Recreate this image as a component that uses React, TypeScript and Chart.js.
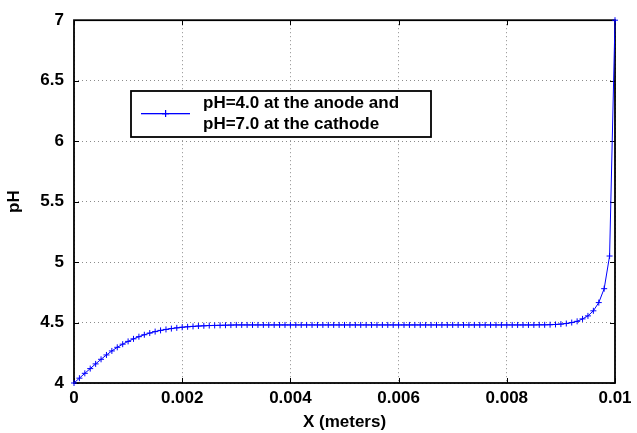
import React, { useEffect, useRef } from "react";
import { Chart, registerables } from "chart.js";

Chart.register(...registerables);

const X_METERS = [
  0, 0.0001, 0.0002, 0.0003, 0.0004, 0.0005, 0.0006, 0.0007, 0.0008, 0.0009,
  0.001, 0.0011, 0.0012, 0.0013, 0.0014, 0.0015, 0.0016, 0.0017, 0.0018, 0.0019,
  0.002, 0.0021, 0.0022, 0.0023, 0.0024, 0.0025, 0.0026, 0.0027, 0.0028, 0.0029,
  0.003, 0.0031, 0.0032, 0.0033, 0.0034, 0.0035, 0.0036, 0.0037, 0.0038, 0.0039,
  0.004, 0.0041, 0.0042, 0.0043, 0.0044, 0.0045, 0.0046, 0.0047, 0.0048, 0.0049,
  0.005, 0.0051, 0.0052, 0.0053, 0.0054, 0.0055, 0.0056, 0.0057, 0.0058, 0.0059,
  0.006, 0.0061, 0.0062, 0.0063, 0.0064, 0.0065, 0.0066, 0.0067, 0.0068, 0.0069,
  0.007, 0.0071, 0.0072, 0.0073, 0.0074, 0.0075, 0.0076, 0.0077, 0.0078, 0.0079,
  0.008, 0.0081, 0.0082, 0.0083, 0.0084, 0.0085, 0.0086, 0.0087, 0.0088, 0.0089,
  0.009, 0.0091, 0.0092, 0.0093, 0.0094, 0.0095, 0.0096, 0.0097, 0.0098, 0.0099,
  0.01,
];

const PH_VALUES = [
  4.0, 4.04, 4.08, 4.119, 4.158, 4.196, 4.232, 4.265, 4.295, 4.321,
  4.344, 4.365, 4.383, 4.399, 4.413, 4.425, 4.435, 4.443, 4.45, 4.456,
  4.461, 4.465, 4.468, 4.471, 4.473, 4.475, 4.476, 4.477, 4.478, 4.479,
  4.48, 4.48, 4.48, 4.48, 4.48, 4.48, 4.48, 4.48, 4.48, 4.48,
  4.48, 4.48, 4.48, 4.48, 4.48, 4.48, 4.48, 4.48, 4.48, 4.48,
  4.48, 4.48, 4.48, 4.48, 4.48, 4.48, 4.48, 4.48, 4.48, 4.48,
  4.48, 4.48, 4.48, 4.48, 4.48, 4.48, 4.48, 4.48, 4.48, 4.48,
  4.48, 4.48, 4.48, 4.48, 4.48, 4.48, 4.48, 4.48, 4.48, 4.48,
  4.48, 4.48, 4.48, 4.48, 4.48, 4.48, 4.481, 4.481, 4.482, 4.484,
  4.487, 4.492, 4.5, 4.51, 4.53, 4.555, 4.597, 4.665, 4.78, 5.05,
  7.0,
];

const X_TICK_VALUES = [0, 0.002, 0.004, 0.006, 0.008, 0.01];
const X_TICK_LABELS = ["0", "0.002", "0.004", "0.006", "0.008", "0.01"];
const Y_TICK_VALUES = [4, 4.5, 5, 5.5, 6, 6.5, 7];
const Y_TICK_LABELS = ["4", "4.5", "5", "5.5", "6", "6.5", "7"];

const SERIES_LABEL = ["pH=4.0 at the anode and", "pH=7.0 at the cathode"];
const X_TITLE = "X (meters)";
const Y_TITLE = "pH";

const FONT_FAMILY = "'Liberation Sans', Arial, Helvetica, sans-serif";
const BLUE = "#0000ff";

const frameAndTicks = {
  id: "frameAndTicks",
  beforeDatasetsDraw(chart: any) {
    const { ctx, chartArea } = chart;
    const { left, right, top, bottom } = chartArea;
    const xs = chart.scales.x;
    const ys = chart.scales.y;
    ctx.save();
    ctx.setLineDash([]);
    ctx.strokeStyle = "#000";
    ctx.lineWidth = 1;
    const tl = 5;
    ctx.beginPath();
    X_TICK_VALUES.forEach((v) => {
      const px = Math.round(xs.getPixelForValue(v)) + 0.5;
      ctx.moveTo(px, bottom);
      ctx.lineTo(px, bottom - tl);
      ctx.moveTo(px, top);
      ctx.lineTo(px, top + tl);
    });
    Y_TICK_VALUES.forEach((v) => {
      const py = Math.round(ys.getPixelForValue(v)) + 0.5;
      ctx.moveTo(left, py);
      ctx.lineTo(left + tl, py);
      ctx.moveTo(right, py);
      ctx.lineTo(right - tl, py);
    });
    ctx.stroke();
    ctx.lineWidth = 1.8;
    ctx.strokeRect(left, top, right - left, bottom - top);
    ctx.restore();
  },
};

const legendBox = {
  id: "legendBox",
  afterDraw(chart: any) {
    const { ctx } = chart;
    ctx.save();
    ctx.setLineDash([]);
    const bx = 131, by = 91, bw = 300, bh = 46;
    ctx.fillStyle = "#fff";
    ctx.fillRect(bx, by, bw, bh);
    ctx.strokeStyle = "#000";
    ctx.lineWidth = 1.8;
    ctx.strokeRect(bx, by, bw, bh);
    // sample line with marker
    ctx.fillStyle = BLUE;
    ctx.fillRect(141, 113, 49, 1.3);
    ctx.fillRect(165, 110, 1.2, 7);
    ctx.fillRect(162, 113, 7, 1.3);
    ctx.fillStyle = "#000";
    ctx.font = "bold 17px " + FONT_FAMILY;
    ctx.textBaseline = "middle";
    ctx.textAlign = "left";
    ctx.fillText(SERIES_LABEL[0], 203, 103);
    ctx.fillText(SERIES_LABEL[1], 203, 124);
    ctx.restore();
  },
};

export default function App() {
  const canvasRef = useRef<HTMLCanvasElement | null>(null);

  useEffect(() => {
    if (!canvasRef.current) return;
    Chart.defaults.font.family = FONT_FAMILY;
    const points = X_METERS.map((x, i) => ({ x, y: PH_VALUES[i] }));
    const chart = new Chart(canvasRef.current, {
      type: "line",
      data: {
        datasets: [
          {
            label: SERIES_LABEL.join(" "),
            data: points,
            borderColor: BLUE,
            backgroundColor: BLUE,
            borderWidth: 1,
            pointStyle: "cross",
            pointRadius: 3,
            pointBorderWidth: 1,
            pointBorderColor: BLUE,
            tension: 0,
            clip: false as any,
          },
        ],
      },
      options: {
        animation: false,
        responsive: false,
        maintainAspectRatio: false,
        layout: { padding: { left: 0, right: 22, top: 16, bottom: 0 } },
        plugins: {
          legend: { display: false },
          tooltip: { enabled: false },
        },
        scales: {
          x: {
            type: "linear",
            min: 0,
            max: 0.01,
            afterFit: (s: any) => {
              s.height = 50;
            },
            afterBuildTicks: (s: any) => {
              s.ticks = X_TICK_VALUES.map((v) => ({ value: v }));
            },
            ticks: {
              autoSkip: false,
              maxRotation: 0,
              padding: 5,
              color: "#000",
              font: { size: 17, weight: "bold" },
              callback: (v: any) => {
                const i = X_TICK_VALUES.findIndex((t) => Math.abs(t - v) < 1e-9);
                return i >= 0 ? X_TICK_LABELS[i] : "";
              },
            },
            grid: {
              color: "#8c8c8c",
              lineWidth: 1,
              drawTicks: false,
            },
            border: { display: false, dash: [1, 3] },
            title: {
              display: true,
              text: X_TITLE,
              color: "#000",
              font: { size: 17, weight: "bold" },
              padding: { top: 0, bottom: 0 },
            },
          },
          y: {
            type: "linear",
            min: 4,
            max: 7,
            afterFit: (s: any) => {
              s.width = 74;
            },
            afterBuildTicks: (s: any) => {
              s.ticks = Y_TICK_VALUES.map((v) => ({ value: v }));
            },
            ticks: {
              autoSkip: false,
              padding: 10,
              color: "#000",
              font: { size: 17, weight: "bold" },
              callback: (v: any) => {
                const i = Y_TICK_VALUES.findIndex((t) => Math.abs(t - v) < 1e-9);
                return i >= 0 ? Y_TICK_LABELS[i] : "";
              },
            },
            grid: {
              color: "#8c8c8c",
              lineWidth: 1,
              drawTicks: false,
            },
            border: { display: false, dash: [1, 3] },
            title: {
              display: true,
              text: Y_TITLE,
              color: "#000",
              font: { size: 17, weight: "bold" },
              padding: { top: 4, bottom: 0 },
            },
          },
        },
      },
      plugins: [frameAndTicks, legendBox],
    });
    return () => chart.destroy();
  }, []);

  return (
    <div style={{ position: "absolute", left: 0, top: 0, width: 637, height: 433, background: "#fff" }}>
      <canvas ref={canvasRef} width={637} height={433} style={{ width: 637, height: 433, display: "block" }} />
    </div>
  );
}
